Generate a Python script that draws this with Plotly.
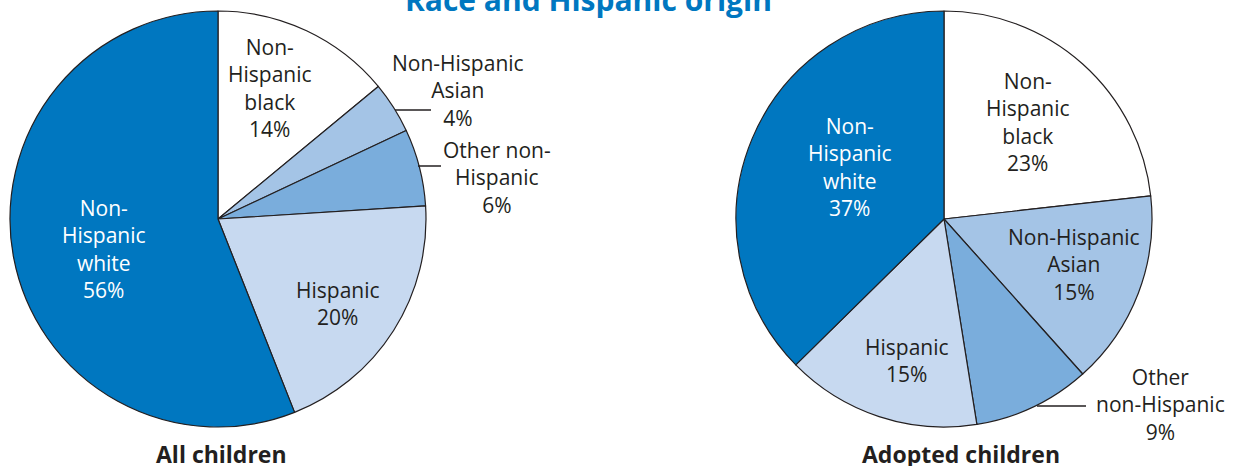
"""Race and Hispanic origin: all children vs adopted children."""

import plotly.graph_objects as go

W, H = 1238, 466
MARGIN_T, MARGIN_B = 11, 39

groups = ["Non-Hispanic black", "Non-Hispanic Asian", "Other non-Hispanic",
          "Hispanic", "Non-Hispanic white"]
all_children = [14, 4, 6, 20, 56]
adopted_children = [23, 15, 9, 15, 37]

slice_colors = ["#FFFFFF", "#A4C4E6", "#7AADDC", "#C7D9F0", "#0077C0"]
INK = "#231F20"
FONT = "Open Sans"

PLOT_H = H - MARGIN_T - MARGIN_B


def px(x):
    return x / W


def py(y):
    return (H - MARGIN_B - y) / PLOT_H


def pie(values, cx, r, name):
    return go.Pie(
        labels=groups,
        values=values,
        name=name,
        sort=False,
        direction="clockwise",
        rotation=0,
        textinfo="none",
        hoverinfo="label+percent",
        marker=dict(colors=slice_colors, line=dict(color=INK, width=1.2)),
        domain=dict(x=[px(cx - r), px(cx + r)], y=[0, 1]),
        showlegend=False,
    )


fig = go.Figure()
fig.add_trace(pie(all_children, 218, 208, "All children"))
fig.add_trace(pie(adopted_children, 944, 208, "Adopted children"))

# label text: (x, y, text, colour)
labels = [
    (270, 88, f"Non-<br>Hispanic<br>black<br>{all_children[0]}%", INK),
    (458, 90, f"Non-Hispanic<br>Asian<br>{all_children[1]}%", INK),
    (497, 177, f"Other non-<br>Hispanic<br>{all_children[2]}%", INK),
    (338, 303, f"Hispanic<br>{all_children[3]}%", INK),
    (104, 249, f"Non-<br>Hispanic<br>white<br>{all_children[4]}%", "#FFFFFF"),
    (1028, 122, f"Non-<br>Hispanic<br>black<br>{adopted_children[0]}%", INK),
    (1074, 264, f"Non-Hispanic<br>Asian<br>{adopted_children[1]}%", INK),
    (1160, 404, f"Other<br>non-Hispanic<br>{adopted_children[2]}%", INK),
    (907, 360, f"Hispanic<br>{adopted_children[3]}%", INK),
    (850, 167, f"Non-<br>Hispanic<br>white<br>{adopted_children[4]}%", "#FFFFFF"),
]
for x, y, text, color in labels:
    fig.add_annotation(
        x=px(x), y=py(y), xref="paper", yref="paper",
        text=text, showarrow=False, xanchor="center", yanchor="middle",
        font=dict(family=FONT, size=21, color=color),
    )

# leader lines
leaders = [(395, 431, 110), (418, 441, 166), (1037, 1086, 406)]
for x0, x1, y in leaders:
    fig.add_shape(
        type="line", xref="paper", yref="paper",
        x0=px(x0), x1=px(x1), y0=py(y), y1=py(y),
        line=dict(color=INK, width=1.5),
    )

# captions under the pies
for x, text in [(221, "All children"), (961, "Adopted children")]:
    fig.add_annotation(
        x=px(x), y=py(454), xref="paper", yref="paper",
        text=f"<b>{text}</b>", showarrow=False,
        xanchor="center", yanchor="middle",
        font=dict(family=FONT, size=23, color=INK),
    )

# title, cut off at the top of the page (as in the source)
fig.add_annotation(
    x=px(588), y=py(-1), xref="paper", yref="paper",
    text="<b>Race and Hispanic origin</b>", showarrow=False,
    xanchor="center", yanchor="middle",
    font=dict(family=FONT, size=30, color="#0077C0"),
)

fig.update_layout(
    width=W, height=H,
    margin=dict(l=0, r=0, t=MARGIN_T, b=MARGIN_B),
    paper_bgcolor="white", plot_bgcolor="white",
)

fig.write_html(
    "out.html",
    config={"displayModeBar": False},
    post_script="document.body.style.margin = '0';",
)
